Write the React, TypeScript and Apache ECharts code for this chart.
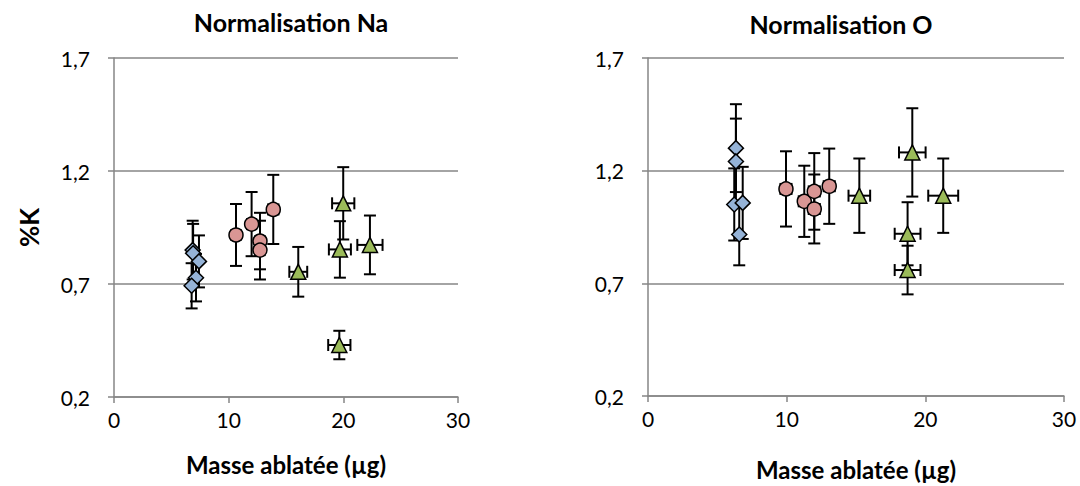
import React, { useEffect, useRef } from "react";
import * as echarts from "echarts";

// ---- Data: Normalisation Na (left) ----
const naBlueX = [6.86, 6.9, 7.41, 7.15, 6.77];
const naBlueY = [0.85, 0.836, 0.8, 0.728, 0.692];
const naBlueEy = [0.13, 0.13, 0.115, 0.105, 0.1];
const naBlueEx = [0.1, 0.1, 0.1, 0.1, 0.1];

const naPinkX = [10.64, 12.0, 12.73, 12.73, 13.89];
const naPinkY = [0.917, 0.965, 0.89, 0.85, 1.03];
const naPinkEy = [0.137, 0.142, 0.125, 0.13, 0.153];
const naPinkEx = [0.4, 0.4, 0.4, 0.4, 0.45];

const naGreenX = [16.07, 19.99, 19.7, 22.32, 19.65];
const naGreenY = [0.754, 1.057, 0.853, 0.873, 0.43];
const naGreenEy = [0.11, 0.16, 0.125, 0.13, 0.063];
const naGreenEx = [0.78, 0.97, 0.96, 1.1, 0.97];

// ---- Data: Normalisation O (right) ----
const oBlueX = [6.34, 6.34, 6.22, 6.83, 6.58];
const oBlueY = [1.3, 1.241, 1.05, 1.057, 0.917];
const oBlueEy = [0.195, 0.19, 0.16, 0.16, 0.137];
const oBlueEx = [0.1, 0.1, 0.1, 0.1, 0.1];

const oPinkX = [9.95, 11.27, 11.99, 11.99, 13.07];
const oPinkY = [1.119, 1.064, 1.108, 1.03, 1.131];
const oPinkEy = [0.167, 0.158, 0.17, 0.153, 0.167];
const oPinkEx = [0.4, 0.4, 0.4, 0.4, 0.4];

const oGreenX = [15.24, 19.06, 18.72, 18.72, 21.29];
const oGreenY = [1.089, 1.281, 0.92, 0.759, 1.089];
const oGreenEy = [0.165, 0.196, 0.14, 0.108, 0.165];
const oGreenEx = [0.78, 0.96, 0.93, 0.93, 1.08];

const xTicks = [0, 10, 20, 30];
const yTicks = [0.2, 0.7, 1.2, 1.7];

const titles = ["Normalisation Na", "Normalisation O"];
const xName = "Masse ablatée (µg)";
const yName = "%K";

const BLUE = "#95b3d7";
const PINK = "#d99694";
const GREEN = "#9bbb59";
const GRAY = "#868686";
const FONT = "Lato";

function zip(x: number[], y: number[], ex: number[], ey: number[]) {
  return x.map((v, i) => [v, y[i], ex[i], ey[i]]);
}

function errSeries(data: number[][], idx: number) {
  return {
    type: "custom",
    xAxisIndex: idx,
    yAxisIndex: idx,
    z: 3,
    encode: { x: 0, y: 1 },
    data,
    renderItem: (params: any, api: any) => {
      const x = api.value(0);
      const y = api.value(1);
      const ex = api.value(2);
      const ey = api.value(3);
      const c = api.coord([x, y]);
      const t = api.coord([x, y + ey]);
      const b = api.coord([x, y - ey]);
      const style = { stroke: "#000", lineWidth: 2 };
      const cap = 6;
      const children: any[] = [
        { type: "line", shape: { x1: c[0], y1: t[1], x2: c[0], y2: b[1] }, style },
        { type: "line", shape: { x1: c[0] - cap, y1: t[1], x2: c[0] + cap, y2: t[1] }, style },
        { type: "line", shape: { x1: c[0] - cap, y1: b[1], x2: c[0] + cap, y2: b[1] }, style },
      ];
      if (ex > 0.2) {
        const l = api.coord([x - ex, y]);
        const r = api.coord([x + ex, y]);
        children.push(
          { type: "line", shape: { x1: l[0], y1: c[1], x2: r[0], y2: c[1] }, style },
          { type: "line", shape: { x1: l[0], y1: c[1] - cap, x2: l[0], y2: c[1] + cap }, style },
          { type: "line", shape: { x1: r[0], y1: c[1] - cap, x2: r[0], y2: c[1] + cap }, style }
        );
      }
      return { type: "group", children };
    },
  };
}

function markSeries(x: number[], y: number[], idx: number, symbol: string, size: number, color: string) {
  return {
    type: "scatter",
    xAxisIndex: idx,
    yAxisIndex: idx,
    z: 5,
    symbol,
    symbolSize: size,
    itemStyle: { color, borderColor: "#000", borderWidth: 1.5, opacity: 1 },
    data: x.map((v, i) => [v, y[i]]),
  };
}

function xAxis(idx: number) {
  return {
    type: "value",
    gridIndex: idx,
    min: xTicks[0],
    max: xTicks[xTicks.length - 1],
    interval: 10,
    name: xName,
    nameLocation: "middle",
    nameGap: idx === 0 ? 55 : 61,
    nameTextStyle: { fontFamily: FONT, fontWeight: "bold", fontSize: 24, color: "#000" },
    axisLine: { show: true, lineStyle: { color: GRAY, width: 1.5 } },
    axisTick: { show: true, inside: false, length: 6, lineStyle: { color: GRAY, width: 1.5 } },
    axisLabel: { fontFamily: FONT, fontSize: 21, color: "#000", margin: 12 },
    splitLine: { show: false },
  };
}

function yAxis(idx: number) {
  return {
    type: "value",
    gridIndex: idx,
    min: yTicks[0],
    max: yTicks[yTicks.length - 1],
    interval: 0.5,
    name: idx === 0 ? yName : "",
    nameLocation: "middle",
    nameGap: 72,
    nameRotate: 90,
    nameTextStyle: { fontFamily: FONT, fontWeight: "bold", fontSize: 26, color: "#000" },
    axisLine: { show: true, lineStyle: { color: GRAY, width: 1.5 } },
    axisTick: { show: true, inside: false, length: 6, lineStyle: { color: GRAY, width: 1.5 } },
    axisLabel: {
      fontFamily: FONT,
      fontSize: 21,
      color: "#000",
      margin: 24,
      formatter: (v: number) => v.toFixed(1).replace(".", ","),
    },
    splitLine: { show: true, lineStyle: { color: GRAY, width: 1.5 } },
  };
}

export default function App() {
  const ref = useRef<HTMLDivElement>(null);
  useEffect(() => {
    if (!ref.current) return;
    const chart = echarts.init(ref.current, null, { renderer: "svg" });
    chart.setOption({
      animation: false,
      backgroundColor: "#fff",
      title: [
        {
          text: titles[0],
          left: 286,
          top: 4,
          textAlign: "center",
          textStyle: { fontFamily: FONT, fontWeight: "bold", fontSize: 25, color: "#000" },
        },
        {
          text: titles[1],
          left: 836,
          top: 6,
          textAlign: "center",
          textStyle: { fontFamily: FONT, fontWeight: "bold", fontSize: 25, color: "#000" },
        },
      ],
      grid: [
        { left: 114, right: 1080 - 458, top: 58, bottom: 486 - 397 },
        { left: 648, right: 1080 - 1064, top: 58, bottom: 486 - 397 },
      ],
      xAxis: [xAxis(0), xAxis(1)],
      yAxis: [yAxis(0), yAxis(1)],
      series: [
        errSeries(zip(naBlueX, naBlueY, naBlueEx, naBlueEy), 0),
        errSeries(zip(naPinkX, naPinkY, naPinkEx, naPinkEy), 0),
        errSeries(zip(naGreenX, naGreenY, naGreenEx, naGreenEy), 0),
        markSeries(naBlueX, naBlueY, 0, "diamond", 15, BLUE),
        markSeries(naPinkX, naPinkY, 0, "circle", 14, PINK),
        markSeries(naGreenX, naGreenY, 0, "triangle", 15, GREEN),
        errSeries(zip(oBlueX, oBlueY, oBlueEx, oBlueEy), 1),
        errSeries(zip(oPinkX, oPinkY, oPinkEx, oPinkEy), 1),
        errSeries(zip(oGreenX, oGreenY, oGreenEx, oGreenEy), 1),
        markSeries(oBlueX, oBlueY, 1, "diamond", 15, BLUE),
        markSeries(oPinkX, oPinkY, 1, "circle", 14, PINK),
        markSeries(oGreenX, oGreenY, 1, "triangle", 15, GREEN),
      ],
    });
    return () => chart.dispose();
  }, []);
  return (
    <div
      ref={ref}
      style={{ position: "fixed", left: 0, top: 0, width: 1080, height: 486 }}
    />
  );
}
